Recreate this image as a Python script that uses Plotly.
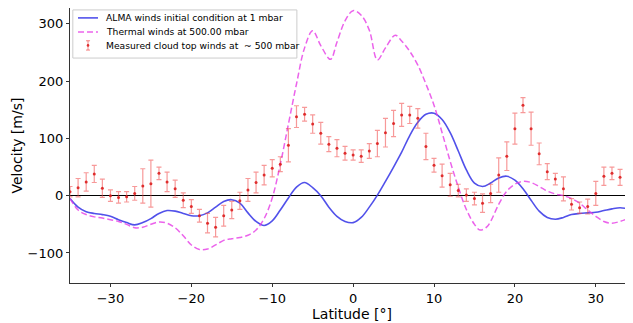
import plotly.graph_objects as go

# measured cloud-top winds (one per degree of latitude)
meas_lat = list(range(-35, 35))
meas_vel = [7, 14, 24, 38, 13, 0, -3, -2, 4, 17,
            21, 39, 24, 12, -8, -19, -35, -48, -55, -35,
            -25, -9, 10, 23, 36, 48, 55, 88, 138, 142,
            125, 109, 90, 83, 74, 71, 69, 78, 91, 110,
            126, 141, 141, 135, 86, 53, 35, 19, 9, 1,
            -5, -13, 4, 36, 69, 117, 158, 117, 73, 42,
            29, 12, -15, -21, -19, 4, 34, 39, 32, 11]
meas_err = [9, 16, 16, 15, 16, 10, 10, 9, 12, 30,
            41, 11, 17, 15, 13, 12, 11, 17, 17, 18,
            15, 15, 20, 18, 17, 15, 13, 29, 19, 12,
            16, 19, 13, 15, 12, 9, 11, 13, 23, 25,
            23, 20, 15, 17, 23, 12, 20, 20, 11, 11,
            11, 16, 16, 30, 25, 27, 13, 29, 19, 14,
            10, 21, 10, 10, 13, 21, 16, 11, 14, 15]

# ALMA winds initial condition at 1 mbar
alma_lat = [-35, -34, -33, -32, -31, -30, -29, -28, -27, -26, -25, -24, -23, -22, -21,
            -20, -19, -18, -17, -16, -15, -14, -13, -12, -11, -10, -9, -8, -7, -6,
            -5, -4, -3, -2, -1, 0, 1, 2, 3, 4, 5, 6, 7, 8, 9,
            10, 11, 12, 13, 14, 15, 16, 17, 18, 19, 20, 21, 22, 23, 24,
            25, 26, 27, 28, 29, 30, 31, 32, 33, 34, 34.6]
alma_vel = [-5, -20, -28, -31, -33, -36, -42, -47, -51, -47, -40, -31, -26, -27, -31,
            -35, -35, -30, -20, -10, -7, -13, -30, -45, -52, -44, -25, -4, 15, 23,
            14, 0, -20, -36, -45, -47, -38, -20, 1, 25, 50, 76, 105, 128, 142,
            144, 133, 110, 78, 45, 22, 16, 22, 31, 34, 27, 12, -8, -27, -38,
            -41, -38, -33, -31, -30, -29, -26, -23, -21, -23, -25]

# thermal winds at 500 mbar
therm_lat = [-35, -34, -33, -32, -31, -30, -29, -28, -27, -26, -25, -24, -23, -22, -21,
             -20, -19, -18, -17, -16, -15, -14, -13, -12, -11, -10, -9, -8, -7, -6,
             -5, -4, -2.8, -2, -1, 0, 1, 2, 3, 4, 5.2, 6, 7, 8, 9,
             10, 11, 12, 13, 14, 15, 15.7, 16.5, 17, 18, 19, 20, 21, 22, 23,
             24, 25, 26, 27, 28, 29, 30, 31, 32, 33, 34, 34.6]
therm_vel = [-5, -25, -33, -37, -39, -42, -45, -50, -56, -55, -50, -46, -48, -56, -70,
             -86, -94, -93, -86, -78, -75, -73, -69, -60, -40, -4, 55, 125, 195, 258,
             288, 262, 238, 268, 305, 323, 315, 289, 237, 258, 280, 270, 252, 228, 195,
             158, 110, 60, 15, -24, -50, -60, -55, -45, -15, 8, 20, 25, 23, 16,
             8, 3, 0, -5, -13, -25, -36, -45, -48, -45, -40, -37]

names = ["ALMA winds initial condition at 1 mbar",
         "Thermal winds at 500.00 mbar",
         "Measured cloud top winds at  ~ 500 mbar"]

BLUE = "rgba(50,50,230,0.85)"
MAGENTA = "rgba(230,60,230,0.8)"
RED_BAR = "rgba(240,70,70,0.55)"
RED_DOT = "rgba(220,30,30,0.9)"

fig = go.Figure()

fig.add_trace(go.Scatter(
    x=alma_lat, y=alma_vel, mode="lines", line_shape="spline",
    line=dict(color=BLUE, width=1.6), name=names[0]))

fig.add_trace(go.Scatter(
    x=therm_lat, y=therm_vel, mode="lines", line_shape="spline",
    line=dict(color=MAGENTA, width=1.5, dash="6px,3px"), name=names[1]))

fig.add_trace(go.Scatter(
    x=meas_lat, y=meas_vel, mode="markers",
    marker=dict(color=RED_DOT, size=3),
    error_y=dict(type="data", array=meas_err, color=RED_BAR, thickness=1.2, width=2.5),
    name=names[2]))

# compact legend drawn by hand (plotly's own legend rows are too tall)
rows = [0.964, 0.913, 0.864]
shapes = [
    dict(type="rect", xref="paper", yref="paper", x0=0.005, x1=0.403, y0=0.818, y1=0.993,
         line=dict(color="#cccccc", width=1), fillcolor="rgba(255,255,255,0.8)"),
    dict(type="line", xref="paper", yref="paper", x0=0.0142, x1=0.0497, y0=rows[0], y1=rows[0],
         line=dict(color=BLUE, width=1.6)),
    dict(type="line", xref="paper", yref="paper", x0=0.0142, x1=0.0497, y0=rows[1], y1=rows[1],
         line=dict(color=MAGENTA, width=1.5, dash="6px,3px")),
    dict(type="line", xref="paper", yref="paper", x0=0.032, x1=0.032, y0=0.847, y1=0.881,
         line=dict(color=RED_BAR, width=1.2)),
    dict(type="line", xref="paper", yref="paper", x0=0.0284, x1=0.0356, y0=0.847, y1=0.847,
         line=dict(color=RED_BAR, width=1.2)),
    dict(type="line", xref="paper", yref="paper", x0=0.0284, x1=0.0356, y0=0.881, y1=0.881,
         line=dict(color=RED_BAR, width=1.2)),
    dict(type="circle", xref="paper", yref="paper", x0=0.0297, x1=0.0343, y0=0.859, y1=0.869,
         line=dict(width=0), fillcolor=RED_DOT),
]
annotations = [
    dict(text=n, xref="paper", yref="paper", x=0.0604, y=r, xanchor="left", yanchor="middle",
         showarrow=False, font=dict(size=9.2))
    for n, r in zip(names, rows)
]
annotations += [
    dict(text="Latitude [°]", xref="paper", yref="paper", x=0.5, y=0,
         xanchor="center", yanchor="top", yshift=-21, showarrow=False,
         font=dict(size=14)),
    dict(text="Velocity [m/s]", xref="paper", yref="paper", x=0, y=0.5,
         xanchor="right", yanchor="middle", xshift=-44, textangle=-90,
         showarrow=False, font=dict(size=14)),
]

# page body has an 8px margin, so the figure is a bit smaller than the window
fig.update_layout(
    width=625, height=315,
    margin=dict(l=62, r=0, t=0, b=40, autoexpand=False),
    paper_bgcolor="white", plot_bgcolor="white",
    font=dict(family="DejaVu Sans", color="black", size=13),
    showlegend=False,
    shapes=shapes,
    annotations=annotations,
)
fig.update_xaxes(
    range=[-35, 34.6], tickvals=[-30, -20, -10, 0, 10, 20, 30], automargin=False,
    showgrid=False, zeroline=False, showline=True, linecolor="#333", linewidth=1.2,
    mirror=True, ticks="outside", ticklen=3, tickcolor="#333")
fig.update_yaxes(
    range=[-152.4, 327.6], tickvals=[-100, 0, 100, 200, 300], automargin=False,
    showgrid=False, zeroline=True, zerolinecolor="black", zerolinewidth=1,
    showline=True, linecolor="#333", linewidth=1.2,
    mirror=True, ticks="outside", ticklen=3, tickcolor="#333")

fig.write_html("out.html")
